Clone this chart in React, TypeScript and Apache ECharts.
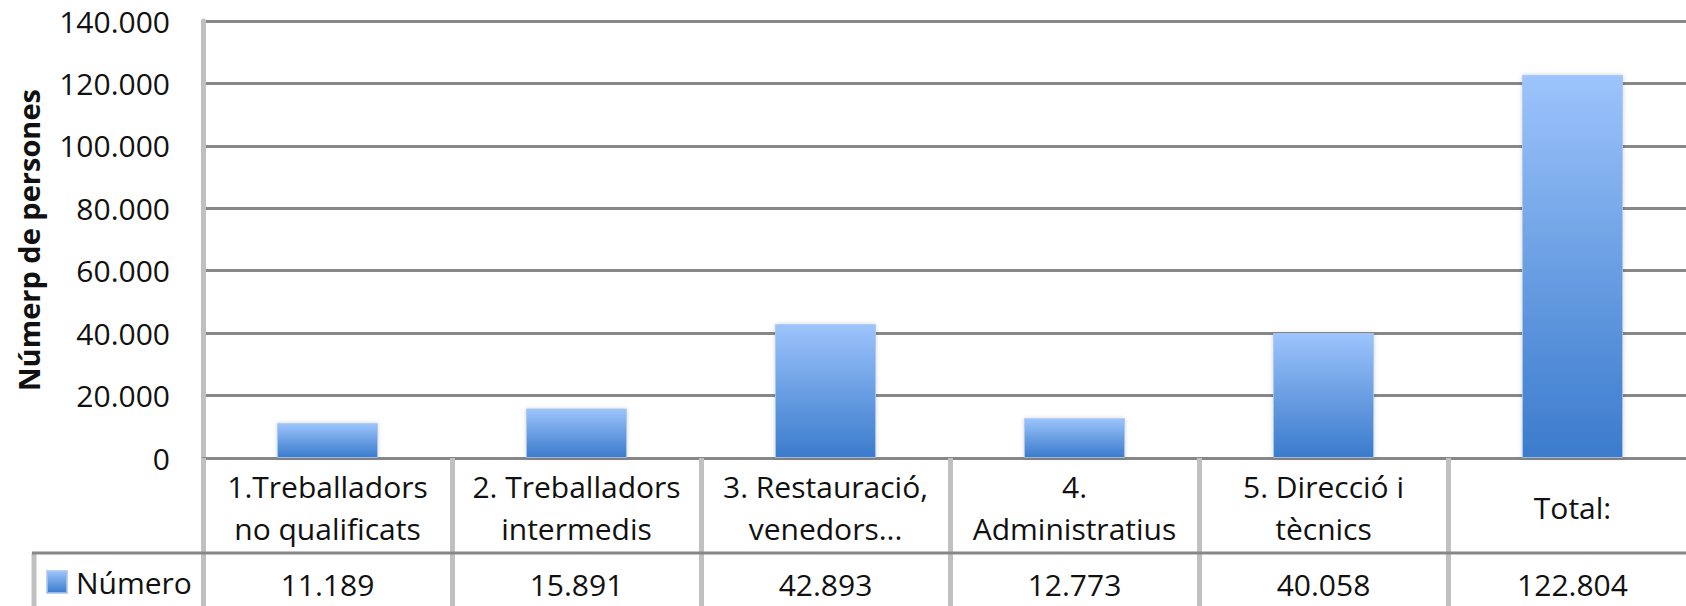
import React, { useEffect, useRef } from "react";
import * as echarts from "echarts";

const categories = [
  "1.Treballadors\nno qualificats",
  "2. Treballadors\nintermedis",
  "3. Restauració,\nvenedors...",
  "4.\nAdministratius",
  "5. Direcció i\ntècnics",
  "Total:",
];
const values = [11189, 15891, 42893, 12773, 40058, 122804];
const seriesName = "Número";
const yAxisTitle = "Númerp de persones";
const yMin = 0;
const yMax = 140000;
const yStep = 20000;

const FONT = "'Open Sans', 'DejaVu Sans', sans-serif";
const TEXT = "#111111";
const DARK = "#878787";
const LIGHT = "#c0c0c0";

const fmt = (v: number) =>
  String(Math.round(v)).replace(/\B(?=(\d{3})+(?!\d))/g, ".");

const barGradient = {
  type: "linear",
  x: 0,
  y: 0,
  x2: 0,
  y2: 1,
  colorStops: [
    { offset: 0, color: "#9dc4fc" },
    { offset: 0.5, color: "#6a9fe3" },
    { offset: 1, color: "#3b7bcc" },
  ],
};

export default function App() {
  const ref = useRef<HTMLDivElement>(null);

  useEffect(() => {
    document.body.style.margin = "0";
    if (!ref.current) return;
    const chart = echarts.init(ref.current, null, { renderer: "svg" });
    const option: any = {
      animation: false,
      backgroundColor: "#ffffff",
      textStyle: { fontFamily: FONT },
      grid: {
        left: 203,
        right: -11,
        top: 21,
        bottom: 148,
        containLabel: false,
        outerBoundsMode: "none",
      },
      legend: {
        data: [seriesName],
        left: 46,
        top: 567,
        padding: 0,
        itemWidth: 20,
        itemHeight: 22,
        icon: "rect",
        selectedMode: false,
        textStyle: {
          fontFamily: FONT,
          fontSize: 30,
          color: TEXT,
          padding: [0, 0, 0, 4],
        },
      },
      xAxis: [
        {
          type: "category",
          data: categories,
          position: "bottom",
          axisLine: { show: true, lineStyle: { color: DARK, width: 3 } },
          axisTick: {
            show: true,
            alignWithLabel: false,
            length: 148,
            lineStyle: { color: LIGHT, width: 5 },
          },
          axisLabel: {
            interval: 0,
            margin: 49,
            verticalAlign: "middle",
            fontFamily: FONT,
            fontSize: 30,
            lineHeight: 42,
            color: TEXT,
          },
          splitLine: { show: false },
        },
        {
          type: "category",
          data: categories,
          position: "bottom",
          offset: 0,
          axisLine: { show: false },
          axisTick: { show: false },
          axisLabel: {
            interval: 0,
            margin: 126,
            verticalAlign: "middle",
            fontFamily: FONT,
            fontSize: 30,
            color: TEXT,
            formatter: (_v: string, i: number) => fmt(values[i]),
          },
          splitLine: { show: false },
        },
      ],
      yAxis: {
        type: "value",
        min: yMin,
        max: yMax,
        interval: yStep,
        axisLine: { show: true, lineStyle: { color: LIGHT, width: 5 } },
        axisTick: { show: false },
        axisLabel: {
          margin: 33,
          fontFamily: FONT,
          fontSize: 30,
          color: TEXT,
          padding: [8, 0, 0, 0],
          formatter: (v: number) => fmt(v),
        },
        splitLine: { show: true, lineStyle: { color: DARK, width: 3 } },
      },
      graphic: [
        {
          type: "line",
          z: 10,
          shape: { x1: 32, y1: 553, x2: 1686, y2: 553 },
          style: { stroke: DARK, lineWidth: 3 },
        },
        {
          type: "line",
          z: 9,
          shape: { x1: 34, y1: 553, x2: 34, y2: 606 },
          style: { stroke: LIGHT, lineWidth: 5 },
        },
        {
          type: "text",
          x: 28,
          y: 240,
          rotation: Math.PI / 2,
          style: {
            text: yAxisTitle,
            font: `bold 29px ${FONT}`,
            fill: TEXT,
            textAlign: "center",
            textVerticalAlign: "middle",
          },
        },
      ],
      series: [
        {
          name: seriesName,
          type: "bar",
          xAxisIndex: 0,
          data: values,
          barWidth: 101,
          itemStyle: {
            color: barGradient,
            borderColor: "rgba(170,200,240,0.8)",
            borderWidth: 1,
            shadowColor: "rgba(0,0,0,0.18)",
            shadowBlur: 4,
          },
        },
      ],
    };
    chart.setOption(option);
    return () => chart.dispose();
  }, []);

  return <div ref={ref} style={{ width: 1686, height: 606 }} />;
}
